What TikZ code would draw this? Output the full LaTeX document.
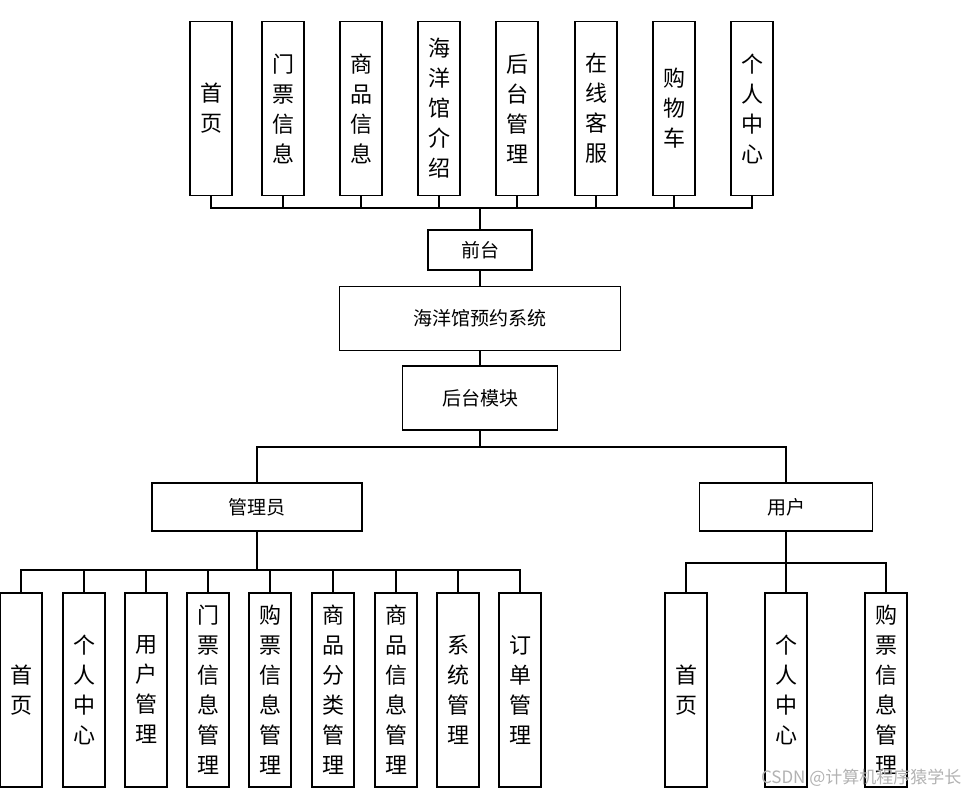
\documentclass[tikz,border=0pt]{standalone}
\usepackage{fontspec}
\setmainfont{Noto Sans CJK SC}
\usetikzlibrary{positioning, calc}
\begin{document}
\begin{tikzpicture}[x=1pt,y=-1pt,line width=1.2pt,draw=black!100]
	\useasboundingbox (0,0) rectangle (968,797);
	\def \rowtop{108.5}
	\def \rowbot{690}
	\tikzstyle{v-node}=[draw,fill=white,line width=1.5pt,minimum width=42pt,inner sep=0pt,align=center,font=\fontsize{22}{30}\selectfont]
	\tikzstyle{h-node}=[draw,fill=white,line width=1.5pt,inner sep=0pt,font=\fontsize{19}{22}\selectfont]
	% top row
	\foreach \x/\txt [count=\i] in {211/首\\页, 283/门\\票\\信\\息, 361/商\\品\\信\\息, 439/海\\洋\\馆\\介\\绍, 517/后\\台\\管\\理, 596/在\\线\\客\\服, 674/购\\物\\车, 752/个\\人\\中\\心}
		\node[v-node,minimum height=174pt] (t\i) at (\x,\rowtop) {\txt};
	\node[h-node,minimum width=104pt,minimum height=40pt] (front) at (480,250) {前台};
	\node[h-node,minimum width=281pt,minimum height=64pt] (sys) at (480,318.5) {海洋馆预约系统};
	\node[h-node,minimum width=155pt,minimum height=64pt] (back) at (480,398) {后台模块};
	\node[h-node,minimum width=210pt,minimum height=48pt] (admin) at (257,507) {管理员};
	\node[h-node,minimum width=173pt,minimum height=48pt] (user) at (786,507) {用户};
	% bottom rows
	\foreach \x/\txt [count=\i] in {21/首\\页, 84/个\\人\\中\\心, 146/用\\户\\管\\理, 208/门\\票\\信\\息\\管\\理, 270/购\\票\\信\\息\\管\\理, 333/商\\品\\分\\类\\管\\理, 396/商\\品\\信\\息\\管\\理, 458/系\\统\\管\\理, 520/订\\单\\管\\理}
		\node[v-node,minimum height=194pt] (a\i) at (\x,\rowbot) {\txt};
	\foreach \x/\txt [count=\i] in {686/首\\页, 786/个\\人\\中\\心, 886/购\\票\\信\\息\\管\\理}
		\node[v-node,minimum height=194pt] (u\i) at (\x,\rowbot) {\txt};
	% buses
	\coordinate (busTop) at (480,208);
	\coordinate (busBack) at (480,447);
	\coordinate (busAdm) at (257,570);
	\coordinate (busUser) at (786,563);
	\foreach \i in {1,...,8}
		\draw (t\i.south) |- (busTop);
	\draw (front.north) -- (busTop);
	\draw (front.south) -- (sys.north);
	\draw (sys.south) -- (back.north);
	\draw (back.south) -- (busBack);
	\draw (admin.north) |- (busBack);
	\draw (user.north) |- (busBack);
	\draw[line width=2.2pt] (admin.south) -- (busAdm);
	\foreach \i in {1,...,9}
		\draw (a\i.north) |- (busAdm);
	\draw (user.south) -- (busUser);
	\foreach \i in {1,2,3}
		\draw (u\i.north) |- (busUser);
	%\node watermark
	\node[text=black!30,font=\fontsize{17}{19}\selectfont,anchor=east,inner sep=0pt] (mark) at (962,778) {CSDN @计算机程序猿学长};
\end{tikzpicture}
\end{document}
